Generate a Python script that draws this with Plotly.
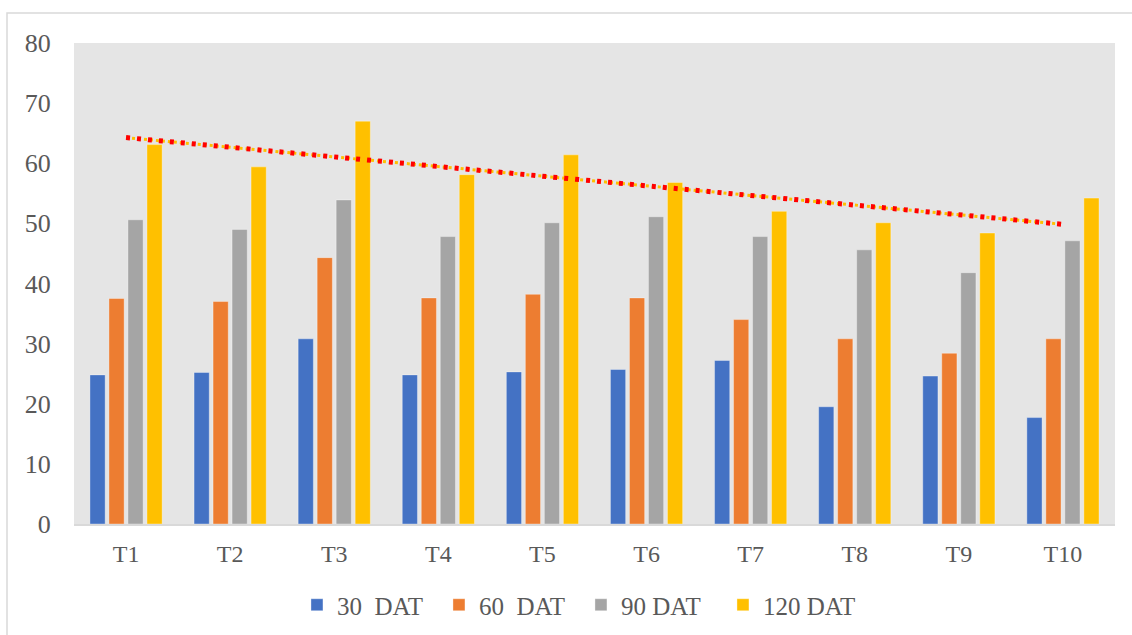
import numpy as np
import plotly.graph_objects as go

categories = ["T1", "T2", "T3", "T4", "T5", "T6", "T7", "T8", "T9", "T10"]
dat30 = [24.8, 25.2, 30.8, 24.8, 25.3, 25.7, 27.2, 19.5, 24.6, 17.7]
dat60 = [37.5, 37.0, 44.3, 37.6, 38.2, 37.6, 34.0, 30.8, 28.4, 30.8]
dat90 = [50.6, 49.0, 53.9, 47.8, 50.1, 51.1, 47.8, 45.6, 41.8, 47.1]
dat120 = [63.1, 59.4, 67.0, 58.1, 61.4, 56.8, 52.0, 50.1, 48.4, 54.2]
series_names = ["30\u00a0 DAT", "60\u00a0 DAT", "90 DAT", "120 DAT"]
colors = ["#4472C4", "#ED7D31", "#A5A5A5", "#FFC000"]

font_family = "Liberation Serif, Times New Roman, serif"

fig = go.Figure()
for name, vals, col in zip(series_names, [dat30, dat60, dat90, dat120], colors):
    fig.add_trace(go.Bar(
        x=categories, y=vals, name=name,
        marker=dict(color=col, line=dict(color="rgba(255,255,255,0.35)", width=1)),
    ))

# linear trendline of the 120 DAT series
idx = np.arange(1, len(categories) + 1)
slope, intercept = np.polyfit(idx, dat120, 1)
trend = (slope * idx + intercept).tolist()

fig.add_trace(go.Scatter(
    x=categories, y=trend, mode="lines", showlegend=False, hoverinfo="skip",
    line=dict(color="#FFC000", width=3, dash="3px,3px"),
))
fig.add_trace(go.Scatter(
    x=categories, y=trend, mode="lines", showlegend=False, hoverinfo="skip",
    line=dict(color="#FF0000", width=5, dash="4px,7px"),
))

L, R, T, B = 74, 17, 43, 111
W, H = 1132, 635
pw, ph = W - L - R, H - T - B

fig.update_layout(
    width=W, height=H,
    margin=dict(l=L, r=R, t=T, b=B, autoexpand=False),
    paper_bgcolor="white",
    plot_bgcolor="#E5E5E5",
    barmode="group",
    bargap=0.27,
    bargroupgap=0.2,
    font=dict(family=font_family, color="#595959"),
    legend=dict(
        orientation="h", x=0.487, xanchor="center",
        y=(524 - 605) / ph, yanchor="middle",
        font=dict(size=25, family=font_family, color="#595959"),
        itemwidth=30,
        entrywidth=97, entrywidthmode="pixels",
        traceorder="normal",
    ),
    shapes=[dict(
        type="rect", xref="paper", yref="paper",
        x0=(7 - L) / pw, x1=1.1, y0=-0.4, y1=1 + (T - 13) / ph,
        line=dict(color="#D9D9D9", width=1.5), fillcolor="rgba(0,0,0,0)", layer="below",
    )],
)
fig.update_xaxes(
    showgrid=False, zeroline=False, showline=True, linecolor="#D9D9D9", linewidth=2,
    ticks="outside", ticklen=7, tickcolor="rgba(0,0,0,0)",
    tickfont=dict(size=24, family=font_family, color="#595959"),
)
fig.update_yaxes(
    range=[0, 80], dtick=10, showgrid=False, zeroline=False, showline=False,
    ticks="outside", ticklen=17, tickcolor="rgba(0,0,0,0)",
    tickfont=dict(size=26, family=font_family, color="#595959"),
)

fig.write_html("out.html")
